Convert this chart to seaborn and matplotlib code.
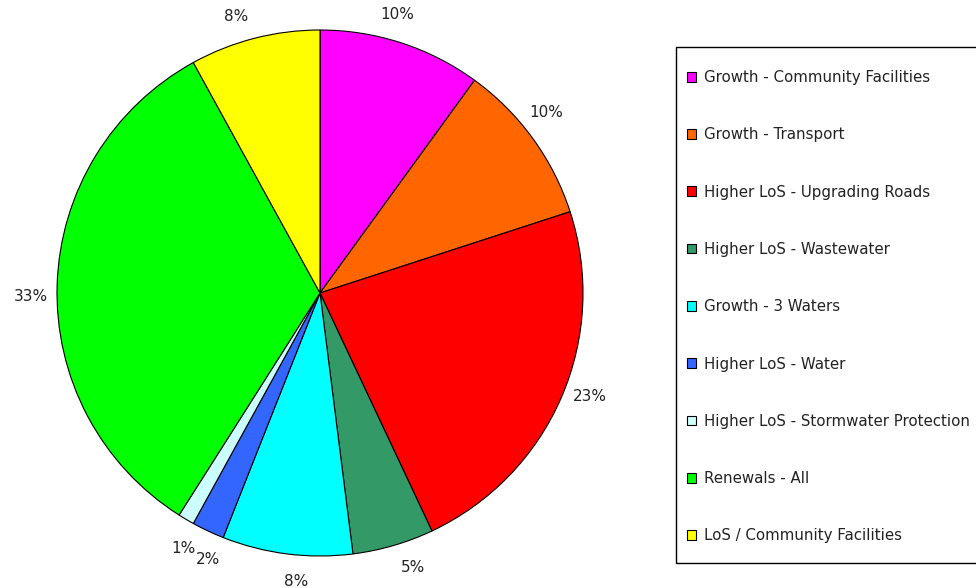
import matplotlib
matplotlib.use("Agg")
import numpy as np
import matplotlib.pyplot as plt
from matplotlib.patches import Patch, Rectangle
import seaborn as sns

categories = [
    "Growth - Community Facilities",
    "Growth - Transport",
    "Higher LoS - Upgrading Roads",
    "Higher LoS - Wastewater",
    "Growth - 3 Waters",
    "Higher LoS - Water",
    "Higher LoS - Stormwater Protection",
    "Renewals - All",
    "LoS / Community Facilities",
]
shares = [10, 10, 23, 5, 8, 2, 1, 33, 8]
colors = ["#FF00FF", "#FF6600", "#FF0000", "#339966", "#00FFFF",
          "#3366FF", "#CCFFFF", "#00FF00", "#FFFF00"]

sns.set_theme(style="white")
plt.rcParams["font.family"] = ["DejaVu Sans"]
plt.rcParams["text.color"] = "#222222"

W, H = 976, 588
fig = plt.figure(figsize=(W / 100, H / 100), dpi=100)
fig.patch.set_facecolor("white")

# pie axes: centre (320, 293) px, radius 263 px
cx, cy, r = 320, 293, 263
ax = fig.add_axes([(cx - r) / W, (H - cy - r) / H, 2 * r / W, 2 * r / H])
wedges, _, pct_texts = ax.pie(
    shares,
    colors=colors,
    startangle=90,
    counterclock=False,
    autopct=lambda p: f"{p:.0f}%",
    pctdistance=1.1,
    wedgeprops=dict(edgecolor="black", linewidth=0.8),
    textprops=dict(fontsize=11, color="#222222"),
)
# percentage labels sit slightly ahead of each wedge's mid-angle
label_dist, lead = 1.1, 2.5
for w, t in zip(wedges, pct_texts):
    ang = np.deg2rad((w.theta1 + w.theta2) / 2 + lead)
    t.set_position((label_dist * np.cos(ang), label_dist * np.sin(ang)))
ax.set_xlim(-1, 1)
ax.set_ylim(-1, 1)
ax.axis("off")

# legend frame
fig.add_artist(Rectangle((676 / W, (H - 563) / H), 310 / W, (563 - 47) / H,
                         transform=fig.transFigure, fill=False,
                         edgecolor="black", linewidth=1.0))

handles = [Patch(facecolor=c, edgecolor="black", linewidth=0.8) for c in colors]
fig.legend(
    handles, categories,
    loc="upper left",
    bbox_to_anchor=(687 / W, (H - 70) / H),
    frameon=False,
    fontsize=10.8,
    handlelength=0.62,
    handleheight=0.62,
    handletextpad=0.5,
    labelspacing=2.82,
    borderpad=0,
    borderaxespad=0,
)

fig.savefig("out.png", dpi=100, facecolor="white")
